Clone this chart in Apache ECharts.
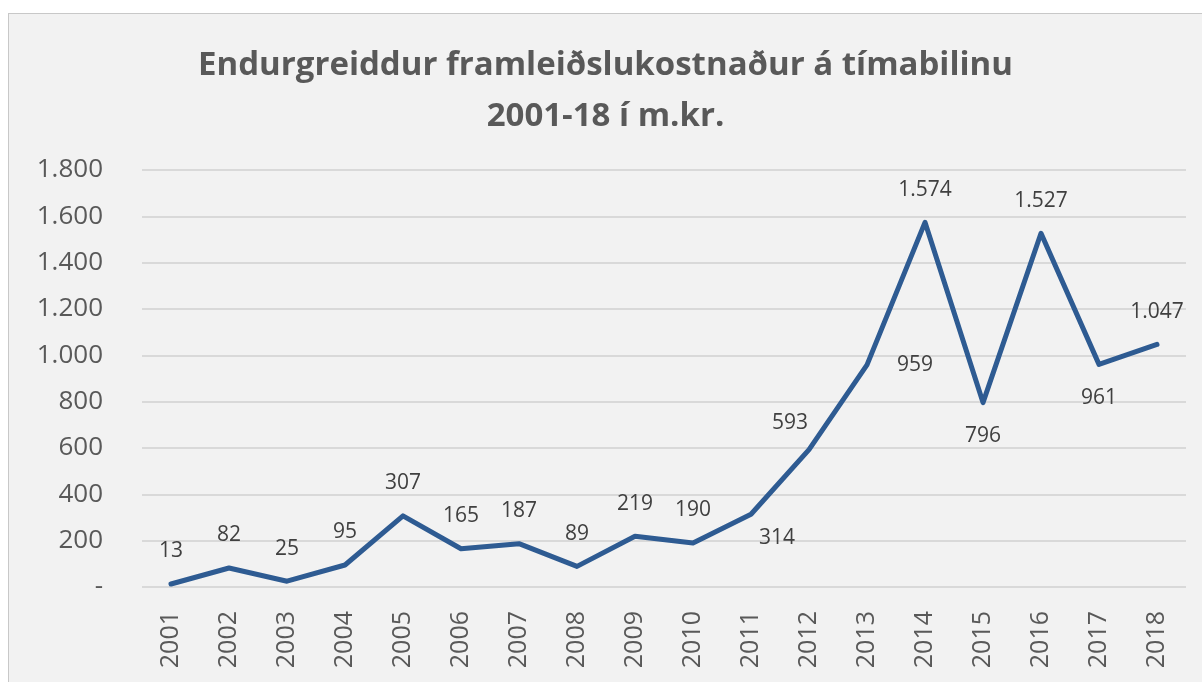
<!DOCTYPE html>
<html>
<head>
<meta charset="utf-8">
<script src="https://cdn.jsdelivr.net/npm/echarts@6/dist/echarts.min.js"></script>
<style>
  html, body { margin: 0; padding: 0; background: #fff; overflow: hidden; }
  #chart {
    position: absolute;
    left: 8px;
    top: 13px;
    width: 1193px;
    height: 668px;
    border-left: 1px solid #c8c8c8;
    border-top: 1px solid #c8c8c8;
    background: #f2f2f2;
  }
</style>
</head>
<body>
<div id="chart"></div>
<script>
// Endurgreiddur framleiðslukostnaður 2001-2018, m.kr.
const years = ['2001', '2002', '2003', '2004', '2005', '2006', '2007', '2008', '2009',
  '2010', '2011', '2012', '2013', '2014', '2015', '2016', '2017', '2018']
const values = [13, 82, 25, 95, 307, 165, 187, 89, 219, 190, 314, 593, 959, 1574, 796, 1527, 961, 1047]
// where each data label sits relative to its point (as in the original)
const labelPlace = ['top', 'top', 'top', 'top', 'top', 'top', 'top', 'top', 'top',
  'top', 'belowRight', 'leftTop', 'right', 'top', 'bottom', 'top', 'bottom', 'top']

const fontFamily = '"Open Sans", "Noto Sans", sans-serif'

function fmt(v) {
  if (v === 0) return '-'
  return String(v).replace(/\B(?=(\d{3})+(?!\d))/g, '.')
}

function labelFor(place) {
  switch (place) {
    case 'bottom': return { show: true, position: 'bottom', distance: 22 }
    case 'belowRight': return { show: true, position: 'bottom', distance: 12, offset: [26, 0] }
    case 'leftTop': return { show: true, position: 'top', distance: 15, offset: [-19, 0] }
    case 'right': return { show: true, position: 'right', distance: 29 }
    default: return { show: true, position: 'top', distance: 21 }
  }
}

const chart = echarts.init(document.getElementById('chart'))

chart.setOption({
  backgroundColor: '#f2f2f2',
  animation: false,
  title: {
    text: 'Endurgreiddur framleiðslukostnaður á tímabilinu\n2001-18 í m.kr.',
    left: 'center',
    top: 21,
    textStyle: {
      color: '#595959',
      fontFamily,
      fontSize: 33,
      fontWeight: 'bold',
      lineHeight: 51,
    },
  },
  grid: {
    left: 133,
    right: 16,
    top: 156,
    bottom: 95,
  },
  xAxis: {
    type: 'category',
    data: years,
    axisLine: { show: false },
    axisTick: { show: false },
    axisLabel: {
      rotate: 90,
      margin: 24,
      color: '#595959',
      fontFamily,
      fontSize: 25,
    },
  },
  yAxis: {
    type: 'value',
    min: 0,
    max: 1800,
    interval: 200,
    axisLine: { show: false },
    axisTick: { show: false },
    axisLabel: {
      margin: 39,
      color: '#595959',
      fontFamily,
      fontSize: 26,
      formatter: fmt,
    },
    splitLine: { lineStyle: { color: '#d9d9d9', width: 2 } },
  },
  series: [{
    type: 'line',
    data: values.map((v, i) => ({
      value: v,
      label: labelFor(labelPlace[i]),
    })),
    showSymbol: true,
    symbol: 'circle',
    symbolSize: 2,
    lineStyle: { color: '#2e5b92', width: 5, cap: 'round', join: 'round' },
    itemStyle: { color: '#2e5b92' },
    label: {
      show: true,
      color: '#404040',
      fontFamily,
      fontSize: 21,
      formatter: p => fmt(p.value),
    },
  }],
})
</script>
</body>
</html>
